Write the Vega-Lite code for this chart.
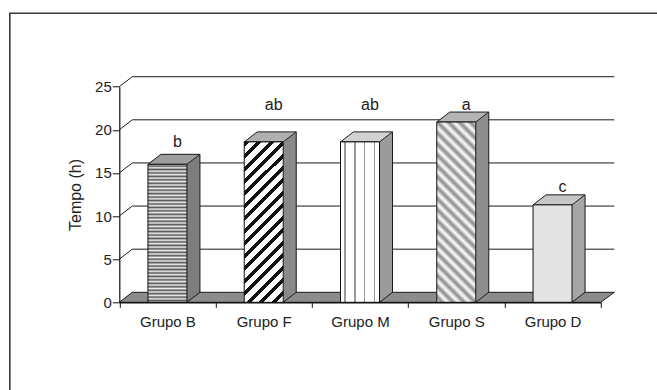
{
  "$schema": "https://vega.github.io/schema/vega-lite/v6.json",
  "width": 650,
  "height": 380,
  "autosize": {"type": "none"},
  "padding": {"left": 9.8, "top": 13.3, "right": -2.8, "bottom": -3.3},
  "background": "white",
  "config": {
    "view": {"stroke": "#3a3a3a", "strokeWidth": 1.6},
    "font": "Liberation Sans",
    "axis": {"labelFont": "Liberation Sans", "titleFont": "Liberation Sans", "labelColor": "#222222", "titleColor": "#222222", "domainColor": "#111111", "tickColor": "#111111", "grid": false}
  },
  "datasets": {
    "barras": [
      {"grupo": "Grupo B", "tempo": 16.0, "letra": "b", "y_letra": 18.6},
      {"grupo": "Grupo F", "tempo": 18.6, "letra": "ab", "y_letra": 22.9},
      {"grupo": "Grupo M", "tempo": 18.6, "letra": "ab", "y_letra": 22.9},
      {"grupo": "Grupo S", "tempo": 20.9, "letra": "a", "y_letra": 22.9},
      {"grupo": "Grupo D", "tempo": 11.3, "letra": "c", "y_letra": 13.4}
    ],
    "grade": [{"t": 5}, {"t": 10}, {"t": 15}, {"t": 20}, {"t": 25}],
    "piso": [{"nivel": 0}]
  },
  "data": {"name": "barras"},
  "encoding": {
    "x": {
      "field": "grupo", "type": "nominal", "title": null,
      "scale": {"domain": ["Grupo B", "Grupo F", "Grupo M", "Grupo S", "Grupo D"], "range": [109.5, 590.9], "paddingInner": 0, "paddingOuter": 0},
      "axis": {"labelAngle": 0, "tickBand": "extent", "offset": -91, "tickSize": 5, "labelPadding": 7, "labelFontSize": 15, "domainWidth": 1.4, "zindex": 1}
    },
    "y": {
      "field": "tempo", "type": "quantitative", "title": "Tempo (h)",
      "scale": {"domain": [0, 25], "range": [289, 73.4], "nice": false, "zero": true},
      "axis": {"values": [0, 5, 10, 15, 20, 25], "offset": -109.5, "tickSize": 7, "labelPadding": 1, "labelFontSize": 15, "titleFontSize": 16, "titleFontWeight": "normal", "titlePadding": 11, "domainWidth": 1.2, "zindex": 1}
    }
  },
  "layer": [
    {
      "data": {"name": "piso"},
      "mark": {"type": "point", "shape": "M0,0L481.4,0L495,-10L13,-10Z", "size": 4, "filled": true, "fill": "#8c8c8c", "stroke": "#1a1a1a", "strokeWidth": 1, "opacity": 1},
      "encoding": {
        "x": {"datum": "Grupo B", "bandPosition": 0, "title": null},
        "y": {"field": "nivel", "type": "quantitative", "title": "Tempo (h)"}
      }
    },
    {
      "data": {"name": "grade"},
      "mark": {"type": "point", "shape": "M0,0L13,-10L495,-10", "size": 4, "filled": false, "color": "#1a1a1a", "strokeWidth": 1, "opacity": 1},
      "encoding": {
        "x": {"datum": "Grupo B", "bandPosition": 0, "title": null},
        "y": {"field": "t", "type": "quantitative", "title": "Tempo (h)"}
      }
    },
    {
      "mark": {"type": "bar", "width": 13, "xOffset": 26, "y2Offset": -10},
      "encoding": {
        "y2": {"datum": 0},
        "fill": {"field": "grupo", "type": "nominal", "legend": null, "scale": {"domain": ["Grupo B", "Grupo F", "Grupo M", "Grupo S", "Grupo D"], "range": ["#7d7d7d", "#8a8a8a", "#9a9a9a", "#8e8e8e", "#a6a6a6"]}}
      }
    },
    {
      "mark": {"type": "point", "shape": "M19.5,0.6L19.5,0L32.5,-10L32.5,0.6Z", "size": 4, "filled": true, "strokeWidth": 0, "opacity": 1},
      "encoding": {
        "fill": {"field": "grupo", "type": "nominal", "legend": null, "scale": {"domain": ["Grupo B", "Grupo F", "Grupo M", "Grupo S", "Grupo D"], "range": ["#7d7d7d", "#8a8a8a", "#9a9a9a", "#8e8e8e", "#a6a6a6"]}}
      }
    },
    {
      "mark": {"type": "point", "shape": "M19.5,0L19.5,-10.6L32.5,-10.6L32.5,-10Z", "size": 4, "filled": true, "strokeWidth": 0, "opacity": 1},
      "encoding": {
        "y": {"datum": 0, "title": "Tempo (h)"},
        "fill": {"field": "grupo", "type": "nominal", "legend": null, "scale": {"domain": ["Grupo B", "Grupo F", "Grupo M", "Grupo S", "Grupo D"], "range": ["#7d7d7d", "#8a8a8a", "#9a9a9a", "#8e8e8e", "#a6a6a6"]}}
      }
    },
    {
      "mark": {"type": "rule", "xOffset": 32.5, "yOffset": -10, "y2Offset": -10, "color": "#1a1a1a", "strokeWidth": 1},
      "encoding": {"y2": {"datum": 0}}
    },
    {
      "mark": {"type": "point", "shape": "M19.5,0L32.5,-10", "size": 4, "filled": false, "color": "#1a1a1a", "strokeWidth": 1, "opacity": 1},
      "encoding": {"y": {"datum": 0, "title": "Tempo (h)"}}
    },
    {
      "mark": {"type": "point", "shape": "M-19.5,0L19.5,0L32.5,-10L-6.5,-10Z", "size": 4, "filled": true, "stroke": "#1a1a1a", "strokeWidth": 1, "opacity": 1},
      "encoding": {
        "fill": {"field": "grupo", "type": "nominal", "legend": null, "scale": {"domain": ["Grupo B", "Grupo F", "Grupo M", "Grupo S", "Grupo D"], "range": ["#9e9e9e", "#b0b0b0", "#d2d2d2", "#b4b4b4", "#c6c6c6"]}}
      }
    },
    {
      "mark": {"type": "bar", "width": 39, "stroke": "#111111", "strokeWidth": 1},
      "encoding": {
        "y2": {"datum": 0},
        "fill": {
          "condition": [
            {"test": "datum.grupo === 'Grupo B'", "value": {"gradient": "linear", "x1": 0, "y1": 0, "x2": 0, "y2": 1, "stops": [
              {"offset": 0, "color": "#eeeeee"}, {"offset": 0.0125, "color": "#555555"}, {"offset": 0.025, "color": "#eeeeee"}, {"offset": 0.0375, "color": "#555555"},
              {"offset": 0.05, "color": "#eeeeee"}, {"offset": 0.0625, "color": "#555555"}, {"offset": 0.075, "color": "#eeeeee"}, {"offset": 0.0875, "color": "#555555"},
              {"offset": 0.1, "color": "#eeeeee"}, {"offset": 0.1125, "color": "#555555"}, {"offset": 0.125, "color": "#eeeeee"}, {"offset": 0.1375, "color": "#555555"},
              {"offset": 0.15, "color": "#eeeeee"}, {"offset": 0.1625, "color": "#555555"}, {"offset": 0.175, "color": "#eeeeee"}, {"offset": 0.1875, "color": "#555555"},
              {"offset": 0.2, "color": "#eeeeee"}, {"offset": 0.2125, "color": "#555555"}, {"offset": 0.225, "color": "#eeeeee"}, {"offset": 0.2375, "color": "#555555"},
              {"offset": 0.25, "color": "#eeeeee"}, {"offset": 0.2625, "color": "#555555"}, {"offset": 0.275, "color": "#eeeeee"}, {"offset": 0.2875, "color": "#555555"},
              {"offset": 0.3, "color": "#eeeeee"}, {"offset": 0.3125, "color": "#555555"}, {"offset": 0.325, "color": "#eeeeee"}, {"offset": 0.3375, "color": "#555555"},
              {"offset": 0.35, "color": "#eeeeee"}, {"offset": 0.3625, "color": "#555555"}, {"offset": 0.375, "color": "#eeeeee"}, {"offset": 0.3875, "color": "#555555"},
              {"offset": 0.4, "color": "#eeeeee"}, {"offset": 0.4125, "color": "#555555"}, {"offset": 0.425, "color": "#eeeeee"}, {"offset": 0.4375, "color": "#555555"},
              {"offset": 0.45, "color": "#eeeeee"}, {"offset": 0.4625, "color": "#555555"}, {"offset": 0.475, "color": "#eeeeee"}, {"offset": 0.4875, "color": "#555555"},
              {"offset": 0.5, "color": "#eeeeee"}, {"offset": 0.5125, "color": "#555555"}, {"offset": 0.525, "color": "#eeeeee"}, {"offset": 0.5375, "color": "#555555"},
              {"offset": 0.55, "color": "#eeeeee"}, {"offset": 0.5625, "color": "#555555"}, {"offset": 0.575, "color": "#eeeeee"}, {"offset": 0.5875, "color": "#555555"},
              {"offset": 0.6, "color": "#eeeeee"}, {"offset": 0.6125, "color": "#555555"}, {"offset": 0.625, "color": "#eeeeee"}, {"offset": 0.6375, "color": "#555555"},
              {"offset": 0.65, "color": "#eeeeee"}, {"offset": 0.6625, "color": "#555555"}, {"offset": 0.675, "color": "#eeeeee"}, {"offset": 0.6875, "color": "#555555"},
              {"offset": 0.7, "color": "#eeeeee"}, {"offset": 0.7125, "color": "#555555"}, {"offset": 0.725, "color": "#eeeeee"}, {"offset": 0.7375, "color": "#555555"},
              {"offset": 0.75, "color": "#eeeeee"}, {"offset": 0.7625, "color": "#555555"}, {"offset": 0.775, "color": "#eeeeee"}, {"offset": 0.7875, "color": "#555555"},
              {"offset": 0.8, "color": "#eeeeee"}, {"offset": 0.8125, "color": "#555555"}, {"offset": 0.825, "color": "#eeeeee"}, {"offset": 0.8375, "color": "#555555"},
              {"offset": 0.85, "color": "#eeeeee"}, {"offset": 0.8625, "color": "#555555"}, {"offset": 0.875, "color": "#eeeeee"}, {"offset": 0.8875, "color": "#555555"},
              {"offset": 0.9, "color": "#eeeeee"}, {"offset": 0.9125, "color": "#555555"}, {"offset": 0.925, "color": "#eeeeee"}, {"offset": 0.9375, "color": "#555555"},
              {"offset": 0.95, "color": "#eeeeee"}, {"offset": 0.9625, "color": "#555555"}, {"offset": 0.975, "color": "#eeeeee"}, {"offset": 0.9875, "color": "#555555"},
              {"offset": 1, "color": "#eeeeee"}
            ]}},
            {"test": "datum.grupo === 'Grupo F'", "value": {"gradient": "linear", "x1": 0, "y1": 0, "x2": 0.285, "y2": 1.174, "stops": [
              {"offset": 0, "color": "#111111"}, {"offset": 0.025, "color": "#111111"}, {"offset": 0.025, "color": "#ffffff"}, {"offset": 0.0625, "color": "#ffffff"},
              {"offset": 0.0625, "color": "#111111"}, {"offset": 0.0875, "color": "#111111"}, {"offset": 0.0875, "color": "#ffffff"}, {"offset": 0.125, "color": "#ffffff"},
              {"offset": 0.125, "color": "#111111"}, {"offset": 0.15, "color": "#111111"}, {"offset": 0.15, "color": "#ffffff"}, {"offset": 0.1875, "color": "#ffffff"},
              {"offset": 0.1875, "color": "#111111"}, {"offset": 0.2125, "color": "#111111"}, {"offset": 0.2125, "color": "#ffffff"}, {"offset": 0.25, "color": "#ffffff"},
              {"offset": 0.25, "color": "#111111"}, {"offset": 0.275, "color": "#111111"}, {"offset": 0.275, "color": "#ffffff"}, {"offset": 0.3125, "color": "#ffffff"},
              {"offset": 0.3125, "color": "#111111"}, {"offset": 0.3375, "color": "#111111"}, {"offset": 0.3375, "color": "#ffffff"}, {"offset": 0.375, "color": "#ffffff"},
              {"offset": 0.375, "color": "#111111"}, {"offset": 0.4, "color": "#111111"}, {"offset": 0.4, "color": "#ffffff"}, {"offset": 0.4375, "color": "#ffffff"},
              {"offset": 0.4375, "color": "#111111"}, {"offset": 0.4625, "color": "#111111"}, {"offset": 0.4625, "color": "#ffffff"}, {"offset": 0.5, "color": "#ffffff"},
              {"offset": 0.5, "color": "#111111"}, {"offset": 0.525, "color": "#111111"}, {"offset": 0.525, "color": "#ffffff"}, {"offset": 0.5625, "color": "#ffffff"},
              {"offset": 0.5625, "color": "#111111"}, {"offset": 0.5875, "color": "#111111"}, {"offset": 0.5875, "color": "#ffffff"}, {"offset": 0.625, "color": "#ffffff"},
              {"offset": 0.625, "color": "#111111"}, {"offset": 0.65, "color": "#111111"}, {"offset": 0.65, "color": "#ffffff"}, {"offset": 0.6875, "color": "#ffffff"},
              {"offset": 0.6875, "color": "#111111"}, {"offset": 0.7125, "color": "#111111"}, {"offset": 0.7125, "color": "#ffffff"}, {"offset": 0.75, "color": "#ffffff"},
              {"offset": 0.75, "color": "#111111"}, {"offset": 0.775, "color": "#111111"}, {"offset": 0.775, "color": "#ffffff"}, {"offset": 0.8125, "color": "#ffffff"},
              {"offset": 0.8125, "color": "#111111"}, {"offset": 0.8375, "color": "#111111"}, {"offset": 0.8375, "color": "#ffffff"}, {"offset": 0.875, "color": "#ffffff"},
              {"offset": 0.875, "color": "#111111"}, {"offset": 0.9, "color": "#111111"}, {"offset": 0.9, "color": "#ffffff"}, {"offset": 0.9375, "color": "#ffffff"},
              {"offset": 0.9375, "color": "#111111"}, {"offset": 0.9625, "color": "#111111"}, {"offset": 0.9625, "color": "#ffffff"}, {"offset": 1, "color": "#ffffff"}
            ]}},
            {"test": "datum.grupo === 'Grupo M'", "value": {"gradient": "linear", "x1": 0, "y1": 0, "x2": 1, "y2": 0, "stops": [
              {"offset": 0, "color": "#ffffff"}, {"offset": 0.1, "color": "#ffffff"}, {"offset": 0.1, "color": "#999999"}, {"offset": 0.14, "color": "#999999"},
              {"offset": 0.14, "color": "#ffffff"}, {"offset": 0.35, "color": "#ffffff"}, {"offset": 0.35, "color": "#999999"}, {"offset": 0.39, "color": "#999999"},
              {"offset": 0.39, "color": "#ffffff"}, {"offset": 0.6, "color": "#ffffff"}, {"offset": 0.6, "color": "#999999"}, {"offset": 0.64, "color": "#999999"},
              {"offset": 0.64, "color": "#ffffff"}, {"offset": 0.85, "color": "#ffffff"}, {"offset": 0.85, "color": "#999999"}, {"offset": 0.89, "color": "#999999"},
              {"offset": 0.89, "color": "#ffffff"}, {"offset": 1, "color": "#ffffff"}
            ]}},
            {"test": "datum.grupo === 'Grupo S'", "value": {"gradient": "linear", "x1": 0, "y1": 1, "x2": 0.2509, "y2": -0.1617, "stops": [
              {"offset": 0, "color": "#ffffff"}, {"offset": 0.025, "color": "#8a8a8a"}, {"offset": 0.05, "color": "#ffffff"}, {"offset": 0.075, "color": "#8a8a8a"},
              {"offset": 0.1, "color": "#ffffff"}, {"offset": 0.125, "color": "#8a8a8a"}, {"offset": 0.15, "color": "#ffffff"}, {"offset": 0.175, "color": "#8a8a8a"},
              {"offset": 0.2, "color": "#ffffff"}, {"offset": 0.225, "color": "#8a8a8a"}, {"offset": 0.25, "color": "#ffffff"}, {"offset": 0.275, "color": "#8a8a8a"},
              {"offset": 0.3, "color": "#ffffff"}, {"offset": 0.325, "color": "#8a8a8a"}, {"offset": 0.35, "color": "#ffffff"}, {"offset": 0.375, "color": "#8a8a8a"},
              {"offset": 0.4, "color": "#ffffff"}, {"offset": 0.425, "color": "#8a8a8a"}, {"offset": 0.45, "color": "#ffffff"}, {"offset": 0.475, "color": "#8a8a8a"},
              {"offset": 0.5, "color": "#ffffff"}, {"offset": 0.525, "color": "#8a8a8a"}, {"offset": 0.55, "color": "#ffffff"}, {"offset": 0.575, "color": "#8a8a8a"},
              {"offset": 0.6, "color": "#ffffff"}, {"offset": 0.625, "color": "#8a8a8a"}, {"offset": 0.65, "color": "#ffffff"}, {"offset": 0.675, "color": "#8a8a8a"},
              {"offset": 0.7, "color": "#ffffff"}, {"offset": 0.725, "color": "#8a8a8a"}, {"offset": 0.75, "color": "#ffffff"}, {"offset": 0.775, "color": "#8a8a8a"},
              {"offset": 0.8, "color": "#ffffff"}, {"offset": 0.825, "color": "#8a8a8a"}, {"offset": 0.85, "color": "#ffffff"}, {"offset": 0.875, "color": "#8a8a8a"},
              {"offset": 0.9, "color": "#ffffff"}, {"offset": 0.925, "color": "#8a8a8a"}, {"offset": 0.95, "color": "#ffffff"}, {"offset": 0.975, "color": "#8a8a8a"},
              {"offset": 1, "color": "#ffffff"}
            ]}}
          ],
          "value": "#e3e3e3"
        }
      }
    },
    {
      "mark": {"type": "text", "dx": 10, "baseline": "middle", "fontSize": 16, "color": "#222222", "font": "Liberation Sans"},
      "encoding": {
        "y": {"field": "y_letra", "type": "quantitative", "title": "Tempo (h)"},
        "text": {"field": "letra"}
      }
    }
  ],
  "resolve": {"scale": {"fill": "independent"}}
}
